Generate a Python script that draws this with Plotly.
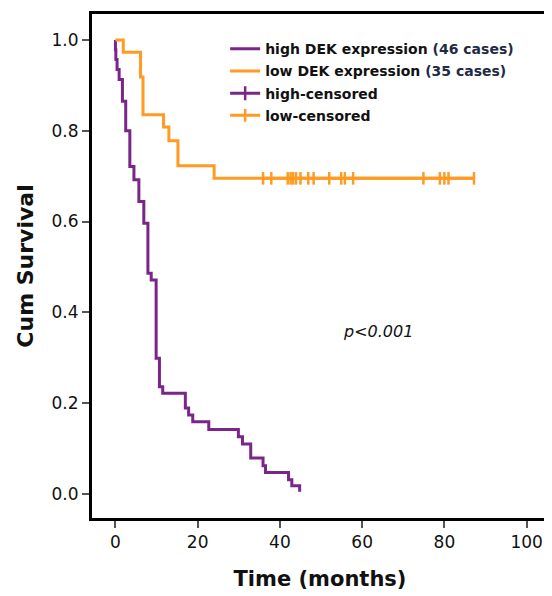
import plotly.graph_objects as go

# High DEK expression (46 cases): step times (months) and survival after each step
high_t = [0.0, 0.0, 0.1, 0.4, 0.9, 1.7, 2.5, 3.5, 4.5, 5.7, 6.9, 7.9, 8.7, 9.9, 10.7,
          11.5, 17.0, 17.8, 18.8, 22.7, 29.9, 30.9, 32.9, 35.9, 36.5, 42.1, 42.9, 44.8]
high_s = [1.0, 0.978, 0.957, 0.935, 0.913, 0.865, 0.800, 0.721, 0.692, 0.644, 0.596, 0.486,
          0.471, 0.299, 0.236, 0.222, 0.189, 0.174, 0.159, 0.142, 0.126, 0.110, 0.079, 0.062,
          0.047, 0.031, 0.018, 0.005]

# Low DEK expression (35 cases)
low_t = [0.0, 1.9, 6.1, 6.7, 11.7, 13.0, 15.2, 24.0, 87.2]
low_s = [1.0, 0.973, 0.918, 0.835, 0.808, 0.778, 0.723, 0.695, 0.695]

# Censored observations
low_cens_t = [35.9, 37.9, 41.9, 42.6, 43.2, 43.9, 45.0, 46.9, 48.2, 52.0, 54.9, 55.8,
              57.8, 74.9, 78.9, 80.0, 81.0, 87.2]
low_cens_s = [0.695] * len(low_cens_t)
high_cens_t = []
high_cens_s = []

x_ticks = [0, 20, 40, 60, 80, 100]
y_ticks = [0.0, 0.2, 0.4, 0.6, 0.8, 1.0]
y_tick_labels = ["0.0", "0.2", "0.4", "0.6", "0.8", "1.0"]

PURPLE = "#7a2588"
ORANGE = "#ff9a22"
FONT = "DejaVu Sans, Arial, sans-serif"

fig = go.Figure()
fig.add_trace(go.Scatter(
    x=high_t, y=high_s, mode="lines", line=dict(color=PURPLE, width=3, shape="hv"),
    legendgroup="a",
    name="<b>high DEK expression <span style='color:#1f2a44'>(46 cases)</span></b>"))
fig.add_trace(go.Scatter(
    x=low_t, y=low_s, mode="lines", line=dict(color=ORANGE, width=3, shape="hv"),
    legendgroup="b",
    name="<b>low DEK expression <span style='color:#1f2a44'>(35 cases)</span></b>"))
fig.add_trace(go.Scatter(
    x=high_cens_t if high_cens_t else [None], y=high_cens_s if high_cens_s else [None],
    mode="lines+markers", line=dict(color=PURPLE, width=3), legendgroup="c",
    marker=dict(symbol="line-ns-open", size=10, line=dict(color=PURPLE, width=2.5)),
    name="<b>high-censored</b>"))
fig.add_trace(go.Scatter(
    x=low_cens_t, y=low_cens_s, legendgroup="d",
    mode="lines+markers", line=dict(color=ORANGE, width=3),
    marker=dict(symbol="line-ns-open", size=9, line=dict(color=ORANGE, width=2.5)),
    name="<b>low-censored</b>"))

fig.add_annotation(x=63.9, y=0.357, text="<i>p<0.001</i>", showarrow=False,
                   font=dict(family=FONT, size=16, color="#111111"))

# The page body adds an 8px offset, so the figure is drawn 8px smaller with margins reduced
fig.update_layout(
    width=544, height=588,
    margin=dict(l=84, r=1, t=6, b=78),
    paper_bgcolor="white", plot_bgcolor="white",
    font=dict(family=FONT, size=16, color="#111111"),
    showlegend=True,
    legend=dict(x=0.292, y=0.962, xanchor="left", yanchor="top",
                bgcolor="rgba(0,0,0,0)", font=dict(family=FONT, size=14, color="#111111"),
                tracegroupgap=1, itemwidth=30, traceorder="grouped"),
    xaxis=dict(range=[-5.7, 105.2], tickvals=x_ticks, ticktext=[str(v) for v in x_ticks],
               showgrid=False, zeroline=False, showline=True, linecolor="black", linewidth=3,
               mirror=True, ticks="outside", ticklen=7, tickwidth=1.5, tickcolor="#555555",
               tickfont=dict(size=17),
               title=dict(text="<b>Time (months)</b>", font=dict(size=21), standoff=20)),
    yaxis=dict(range=[-0.053, 1.057], tickvals=y_ticks, ticktext=y_tick_labels,
               showgrid=False, zeroline=False, showline=True, linecolor="black", linewidth=3,
               mirror=True, ticks="outside", ticklen=7, tickwidth=1.5, tickcolor="#555555",
               tickfont=dict(size=17),
               title=dict(text="<b>Cum Survival</b>", font=dict(size=22), standoff=12)),
)

fig.write_html("out.html")
